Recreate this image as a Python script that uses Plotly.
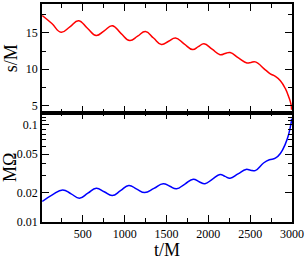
import plotly.graph_objects as go

t_s = [15, 130, 240, 345, 448, 555, 660, 755, 852, 955, 1060, 1155, 1248, 1345, 1440,
       1525, 1608, 1710, 1813, 1880, 1948, 2045, 2140, 2200, 2260, 2360, 2461, 2510,
       2561, 2681, 2741, 2801, 2861, 2921, 2960, 2989, 2995]
s_M = [17.4, 16.3, 15.1, 15.85, 16.7, 15.65, 14.65, 15.3, 16.0, 14.95, 13.95, 14.55, 15.2,
       14.3, 13.4, 13.85, 14.3, 13.5, 12.7, 13.1, 13.5, 12.75, 12.0, 12.15, 12.3, 11.55,
       10.86, 10.93, 11.0, 9.9, 9.35, 9.0, 8.4, 7.3, 6.2, 5.1, 4.4]

t_w = [15, 135, 259, 360, 460, 560, 660, 755, 852, 950, 1050, 1145, 1240, 1350, 1460,
       1540, 1620, 1720, 1820, 1890, 1960, 2050, 2140, 2200, 2260, 2355, 2450, 2505,
       2560, 2660, 2729, 2801, 2861, 2921, 2960, 2989, 2996]
M_Omega = [0.0163, 0.019, 0.0214, 0.0195, 0.0176, 0.0198, 0.0222, 0.0205, 0.0187, 0.021,
           0.0238, 0.0218, 0.0201, 0.0222, 0.0248, 0.0233, 0.022, 0.0246, 0.0276, 0.026,
           0.0248, 0.0277, 0.0309, 0.0295, 0.0283, 0.0313, 0.0348, 0.0342, 0.0338, 0.0405,
           0.0437, 0.0454, 0.0508, 0.0637, 0.0798, 0.104, 0.116]

x_ticks = [500, 1000, 1500, 2000, 2500, 3000]
s_ticks = [5, 10, 15]
w_ticks = [0.01, 0.02, 0.05, 0.1]
w_tick_labels = ["0.01", "0.02", "0.05", "0.1"]
w_minor = [0.03, 0.04, 0.06, 0.07, 0.08, 0.09, 0.11, 0.12, 0.13]

FONT = "Liberation Serif"

fig = go.Figure()
fig.add_trace(go.Scatter(x=t_s, y=s_M, mode="lines", xaxis="x", yaxis="y",
                         line=dict(color="#ff0000", width=1.5, shape="spline", smoothing=1.3)))
fig.add_trace(go.Scatter(x=t_w, y=M_Omega, mode="lines", xaxis="x2", yaxis="y2",
                         line=dict(color="#0000ff", width=1.5, shape="spline", smoothing=1.3)))

axcommon = dict(showline=True, linecolor="black", linewidth=1.5, mirror="allticks",
                ticks="inside", ticklen=7, tickwidth=1, tickcolor="black",
                showgrid=False, zeroline=False,
                tickfont=dict(family=FONT, size=12, color="black"))

fig.update_layout(
    width=306, height=260,
    margin=dict(l=42, r=14, t=2, b=29),
    paper_bgcolor="white", plot_bgcolor="white",
    showlegend=False,
    xaxis=dict(axcommon, domain=[0, 1], anchor="y", range=[12, 3000], tickvals=x_ticks,
               showticklabels=False,
               minor=dict(ticks="inside", ticklen=4, dtick=250, tick0=0, tickcolor="black")),
    yaxis=dict(axcommon, domain=[0.502, 1], anchor="x", range=[4, 19], tickvals=s_ticks,
               minor=dict(ticks="inside", ticklen=4, dtick=2.5, tick0=0, tickcolor="black"),
               title=dict(text="s/M", font=dict(family=FONT, size=18, color="black"), standoff=4)),
    xaxis2=dict(axcommon, domain=[0, 1], anchor="y2", range=[12, 3000], tickvals=x_ticks,
                minor=dict(ticks="inside", ticklen=4, dtick=250, tick0=0, tickcolor="black"),
                title=dict(text="t/M", font=dict(family=FONT, size=18, color="black"), standoff=4)),
    yaxis2=dict(axcommon, domain=[0, 0.502], anchor="x2", type="log", range=[-2, -0.873],
                tickvals=w_ticks, ticktext=w_tick_labels,
                minor=dict(ticks="inside", ticklen=4, tickvals=w_minor, tickcolor="black"),
                title=dict(text="MΩ", font=dict(family=FONT, size=18, color="black"), standoff=2)),
)

fig.write_html("out.html", config={"displayModeBar": False},
               post_script="document.body.style.margin='0';document.body.style.overflow='hidden';")
